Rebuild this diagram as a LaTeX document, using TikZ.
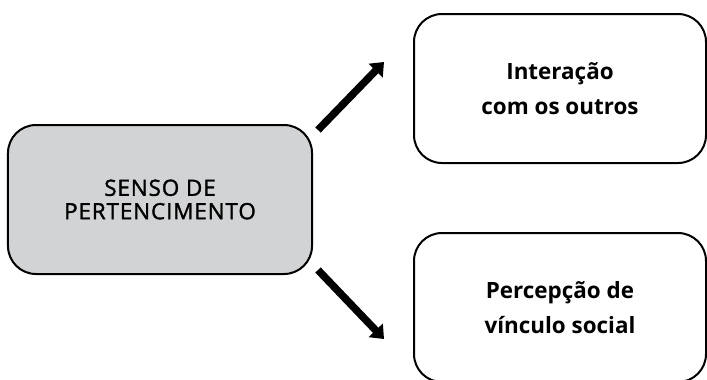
\documentclass[tikz,border=0pt]{standalone}
\usepackage{fontspec}
\setmainfont{Open Sans}
\newfontface\sensofont{Open Sans}[FakeBold=1.5,LetterSpace=4]
\usetikzlibrary{arrows.meta,positioning}
\definecolor{boxgray}{HTML}{D1D3D4}

\begin{document}
\begin{tikzpicture}[x=1bp,y=-1bp,
  caixa/.style={draw,line width=2bp,rounded corners=28bp,minimum width=292bp,minimum height=149bp,align=center,inner sep=0pt},
  seta/.style={line width=7.5bp,-{Triangle[length=12bp,width=19bp]}}]
\useasboundingbox[fill=white] (0,0) rectangle (707,379);

\node (senso) at (160,199.5) [caixa,fill=boxgray,minimum width=304bp,font=\sensofont\fontsize{22.5}{23.5}\selectfont] {SENSO DE\\PERTENCIMENTO};
\node (inter) at (560,88.5) [caixa,font=\bfseries\fontsize{22.5}{35}\selectfont] {Interação\\com os outros};
\node (perc) at (560,307.5) [caixa,font=\bfseries\fontsize{22.5}{35}\selectfont] {Percepção de\\vínculo social};

\coordinate (s0) at (318,130);
\coordinate (s1) at (384,62);
\coordinate (s2) at (318,270);
\coordinate (s3) at (384,339);

\draw[seta] (s0) -- (s1);
\draw[seta] (s2) -- (s3);
\end{tikzpicture}
\end{document}
